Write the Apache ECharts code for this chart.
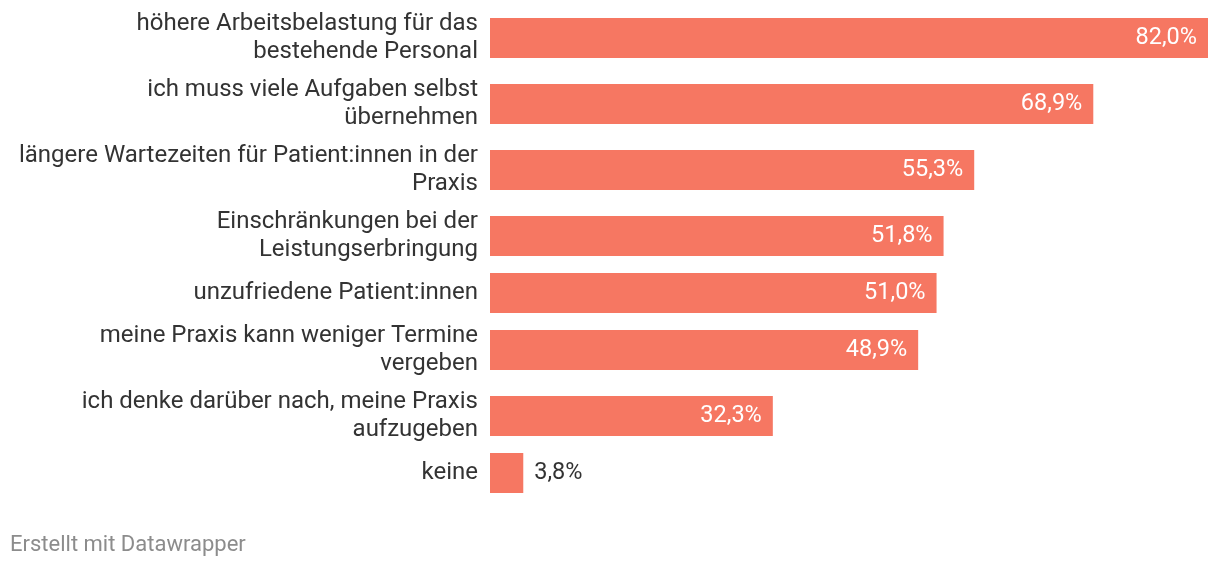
<!DOCTYPE html>
<html>
<head>
<meta charset="utf-8">
<script src="https://cdn.jsdelivr.net/npm/echarts@6/dist/echarts.min.js"></script>
<style>html,body{margin:0;padding:0;background:#fff}#c{width:1220px;height:568px}</style>
</head>
<body>
<div id="c"></div>
<script>
const categories = [
  "höhere Arbeitsbelastung für das\nbestehende Personal",
  "ich muss viele Aufgaben selbst\nübernehmen",
  "längere Wartezeiten für Patient:innen in der\nPraxis",
  "Einschränkungen bei der\nLeistungserbringung",
  "unzufriedene Patient:innen",
  "meine Praxis kann weniger Termine\nvergeben",
  "ich denke darüber nach, meine Praxis\naufzugeben",
  "keine"
];
const values = [82.0, 68.9, 55.3, 51.8, 51.0, 48.9, 32.3, 3.8];

// layout: row height depends on how many lines the label has (like Datawrapper)
const rowHeight = label => label.split('\n').length > 1 ? 66 : 48;
const rowCenters = [];
categories.forEach((c, i) => {
  if (i === 0) rowCenters.push(rowHeight(c) / 2);
  else rowCenters.push(rowCenters[i - 1] + (rowHeight(categories[i - 1]) + rowHeight(c)) / 2);
});

const BAR_COLOR = '#f67762';
const TEXT_COLOR = '#333333';
const FONT = 'Roboto';
const fmt = v => v.toFixed(1).replace('.', ',') + '%';

const chart = echarts.init(document.getElementById('c'));
chart.setOption({
  animation: false,
  grid: { left: 490, right: 12, top: 0, bottom: 0 },
  xAxis: { type: 'value', min: 0, max: 82, show: false },
  yAxis: { type: 'value', min: -5, max: 563, inverse: true, show: false },
  series: [{
    type: 'custom',
    data: values.map((v, i) => [v, rowCenters[i], i]),
    encode: { x: 0, y: 1 },
    renderItem: function (params, api) {
      const v = api.value(0), yv = api.value(1), idx = api.value(2);
      const p0 = api.coord([0, yv]);
      const p1 = api.coord([v, yv]);
      const barH = 40;
      const w = p1[0] - p0[0];
      const labelFits = w > 80;
      return {
        type: 'group',
        children: [
          {
            type: 'rect',
            shape: { x: p0[0], y: p0[1] - barH / 2, width: w, height: barH },
            style: { fill: BAR_COLOR }
          },
          {
            type: 'text',
            x: labelFits ? p1[0] - 11 : p1[0] + 11,
            y: p0[1],
            style: {
              text: fmt(v), fontSize: 23.5, fontFamily: FONT,
              fill: labelFits ? '#ffffff' : TEXT_COLOR,
              align: labelFits ? 'right' : 'left', verticalAlign: 'middle'
            }
          },
          {
            type: 'text',
            x: p0[0] - 12,
            y: p0[1],
            style: {
              text: categories[idx], fontSize: 24, lineHeight: 28, fontFamily: FONT,
              fill: TEXT_COLOR, align: 'right', verticalAlign: 'middle'
            }
          }
        ]
      };
    }
  }],
  graphic: [{
    type: 'text', left: 10, top: 534,
    style: { text: 'Erstellt mit Datawrapper', fill: '#8c8c8c', fontSize: 22, fontFamily: FONT }
  }]
});
</script>
</body>
</html>
